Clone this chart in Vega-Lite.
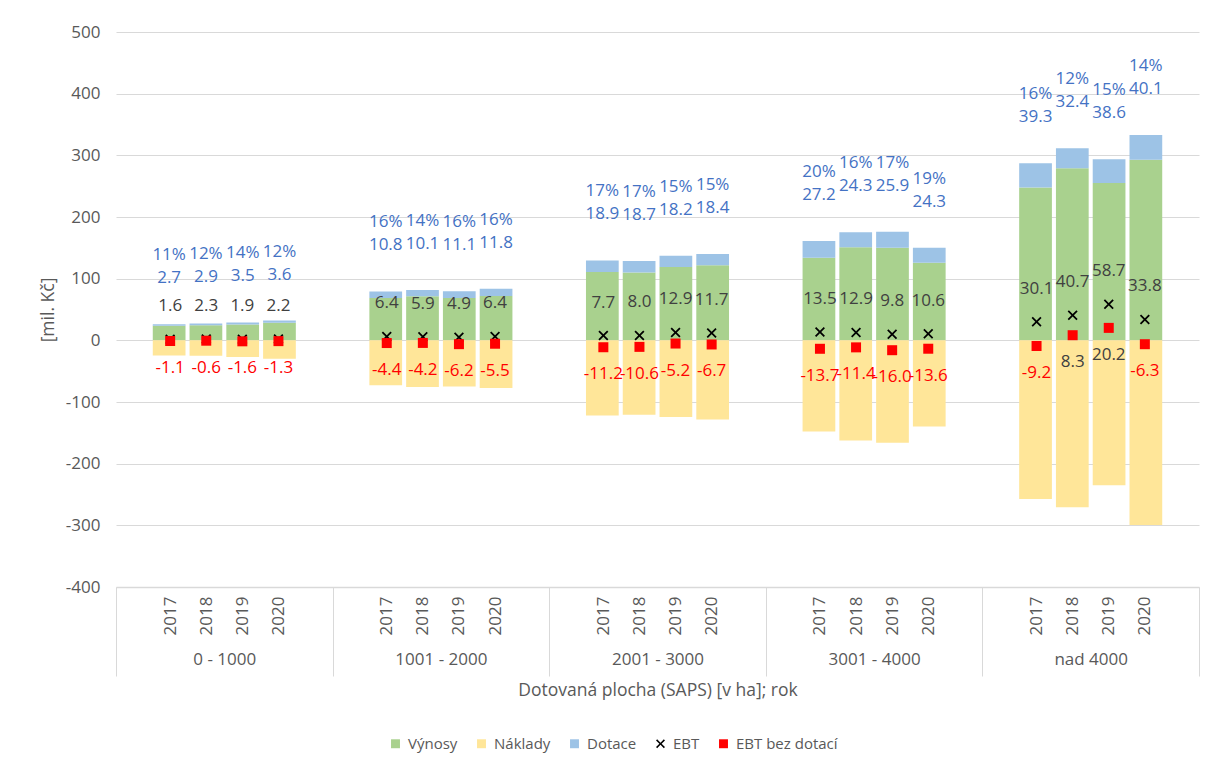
{
  "$schema": "https://vega.github.io/schema/vega-lite/v6.json",
  "width": 1083,
  "height": 555,
  "autosize": {"type": "none"},
  "padding": {"left": 116, "top": 32, "right": 13, "bottom": 182},
  "background": "white",
  "data": {
    "values": [
      {"group": "0 - 1000", "year": "2017", "vynosy": 23.5, "naklady": -24.6, "dotace": 2.7, "ebt": 1.6, "ebt_bd": -1.1, "pct": 0.11},
      {"group": "0 - 1000", "year": "2018", "vynosy": 24.5, "naklady": -25.1, "dotace": 2.9, "ebt": 2.3, "ebt_bd": -0.6, "pct": 0.12},
      {"group": "0 - 1000", "year": "2019", "vynosy": 25.5, "naklady": -27.1, "dotace": 3.5, "ebt": 1.9, "ebt_bd": -1.6, "pct": 0.14},
      {"group": "0 - 1000", "year": "2020", "vynosy": 28.5, "naklady": -29.9, "dotace": 3.6, "ebt": 2.2, "ebt_bd": -1.3, "pct": 0.12},
      {"group": "1001 - 2000", "year": "2017", "vynosy": 68.5, "naklady": -72.9, "dotace": 10.8, "ebt": 6.4, "ebt_bd": -4.4, "pct": 0.16},
      {"group": "1001 - 2000", "year": "2018", "vynosy": 71.5, "naklady": -75.7, "dotace": 10.1, "ebt": 5.9, "ebt_bd": -4.2, "pct": 0.14},
      {"group": "1001 - 2000", "year": "2019", "vynosy": 68.5, "naklady": -74.7, "dotace": 11.1, "ebt": 4.9, "ebt_bd": -6.2, "pct": 0.16},
      {"group": "1001 - 2000", "year": "2020", "vynosy": 72.0, "naklady": -77.4, "dotace": 11.8, "ebt": 6.4, "ebt_bd": -5.5, "pct": 0.16},
      {"group": "2001 - 3000", "year": "2017", "vynosy": 110.7, "naklady": -121.9, "dotace": 18.9, "ebt": 7.7, "ebt_bd": -11.2, "pct": 0.17},
      {"group": "2001 - 3000", "year": "2018", "vynosy": 110.0, "naklady": -120.7, "dotace": 18.7, "ebt": 8.0, "ebt_bd": -10.6, "pct": 0.17},
      {"group": "2001 - 3000", "year": "2019", "vynosy": 119.0, "naklady": -124.3, "dotace": 18.2, "ebt": 12.9, "ebt_bd": -5.2, "pct": 0.15},
      {"group": "2001 - 3000", "year": "2020", "vynosy": 121.6, "naklady": -128.3, "dotace": 18.4, "ebt": 11.7, "ebt_bd": -6.7, "pct": 0.15},
      {"group": "3001 - 4000", "year": "2017", "vynosy": 134.0, "naklady": -147.7, "dotace": 27.2, "ebt": 13.5, "ebt_bd": -13.7, "pct": 0.20},
      {"group": "3001 - 4000", "year": "2018", "vynosy": 151.0, "naklady": -162.4, "dotace": 24.3, "ebt": 12.9, "ebt_bd": -11.4, "pct": 0.16},
      {"group": "3001 - 4000", "year": "2019", "vynosy": 150.0, "naklady": -166.1, "dotace": 25.9, "ebt": 9.8, "ebt_bd": -16.0, "pct": 0.17},
      {"group": "3001 - 4000", "year": "2020", "vynosy": 126.0, "naklady": -139.7, "dotace": 24.3, "ebt": 10.6, "ebt_bd": -13.6, "pct": 0.19},
      {"group": "nad 4000", "year": "2017", "vynosy": 248.0, "naklady": -257.2, "dotace": 39.3, "ebt": 30.1, "ebt_bd": -9.2, "pct": 0.16},
      {"group": "nad 4000", "year": "2018", "vynosy": 279.0, "naklady": -270.7, "dotace": 32.4, "ebt": 40.7, "ebt_bd": 8.3, "pct": 0.12},
      {"group": "nad 4000", "year": "2019", "vynosy": 255.0, "naklady": -234.9, "dotace": 38.6, "ebt": 58.7, "ebt_bd": 20.2, "pct": 0.15},
      {"group": "nad 4000", "year": "2020", "vynosy": 293.0, "naklady": -299.3, "dotace": 40.1, "ebt": 33.8, "ebt_bd": -6.3, "pct": 0.14}
    ]
  },
  "transform": [{"calculate": "datum.group + '|' + datum.year", "as": "slot"}],
  "layer": [
    {
      "transform": [
        {"fold": ["vynosy", "naklady", "dotace"], "as": ["series", "value"]},
        {"stack": "value", "groupby": ["group", "year"], "sort": [{"field": "series", "order": "descending"}], "as": ["y0", "y1"]}
      ],
      "encoding": {
        "x": {
          "field": "group", "type": "nominal", "sort": null,
          "scale": {"domain": ["0 - 1000", "1001 - 2000", "2001 - 3000", "3001 - 4000", "nad 4000"], "paddingInner": 0, "paddingOuter": 0},
          "axis": {
            "orient": "bottom", "title": "Dotovaná plocha (SAPS) [v ha]; rok", "titlePadding": 5,
            "labelAngle": 0, "labelPadding": -25, "tickBand": "extent", "tickSize": 89,
            "tickColor": "#d9d9d9", "tickWidth": 1, "domain": false, "grid": false
          }
        },
        "xOffset": {
          "field": "year", "type": "nominal",
          "scale": {"domain": ["2017", "2018", "2019", "2020"], "paddingInner": 0.11, "paddingOuter": 1.055}
        }
      },
      "layer": [
        {
          "mark": {"type": "bar"},
          "encoding": {
            "y": {"field": "y1", "type": "quantitative", "title": "[mil. Kč]", "scale": {"domain": [-400, 500], "nice": false}},
            "y2": {"field": "y0"},
            "color": {
              "field": "series", "type": "nominal",
              "scale": {"domain": ["vynosy", "naklady", "dotace", "ebt", "ebt_bd"], "range": ["#A9D18E", "#FFE699", "#9DC3E6", "#000000", "#FF0000"]},
              "legend": {
                "orient": "none", "legendX": 272, "legendY": 704, "direction": "horizontal", "title": null,
                "labelExpr": "{'vynosy':'Výnosy','naklady':'Náklady','dotace':'Dotace','ebt':'EBT','ebt_bd':'EBT bez dotací'}[datum.label]"
              }
            }
          }
        },
        {
          "transform": [{"filter": "datum.series == 'dotace'"}],
          "mark": {"type": "text", "dy": -69, "fontSize": 17, "color": "#4472C4", "baseline": "middle"},
          "encoding": {
            "y": {"field": "y1", "type": "quantitative", "title": "[mil. Kč]", "scale": {"domain": [-400, 500], "nice": false}},
            "text": {"field": "pct", "type": "quantitative", "format": ".0%"}
          }
        },
        {
          "transform": [{"filter": "datum.series == 'dotace'"}],
          "mark": {"type": "text", "dy": -46, "fontSize": 17, "color": "#4472C4", "baseline": "middle"},
          "encoding": {
            "y": {"field": "y1", "type": "quantitative", "title": "[mil. Kč]", "scale": {"domain": [-400, 500], "nice": false}},
            "text": {"field": "value", "type": "quantitative", "format": ".1f"}
          }
        }
      ]
    },
    {
      "encoding": {
        "x": {
          "field": "slot", "type": "nominal", "sort": null,
          "scale": {
            "domain": [
              "0 - 1000|a", "0 - 1000|2017", "0 - 1000|2018", "0 - 1000|2019", "0 - 1000|2020", "0 - 1000|z",
              "1001 - 2000|a", "1001 - 2000|2017", "1001 - 2000|2018", "1001 - 2000|2019", "1001 - 2000|2020", "1001 - 2000|z",
              "2001 - 3000|a", "2001 - 3000|2017", "2001 - 3000|2018", "2001 - 3000|2019", "2001 - 3000|2020", "2001 - 3000|z",
              "3001 - 4000|a", "3001 - 4000|2017", "3001 - 4000|2018", "3001 - 4000|2019", "3001 - 4000|2020", "3001 - 4000|z",
              "nad 4000|a", "nad 4000|2017", "nad 4000|2018", "nad 4000|2019", "nad 4000|2020", "nad 4000|z"
            ],
            "paddingInner": 0.11, "paddingOuter": 0.055
          },
          "axis": {
            "orient": "bottom", "title": null, "labelAngle": -90, "labelPadding": 9,
            "labelExpr": "slice(datum.value, -1) == 'a' || slice(datum.value, -1) == 'z' ? '' : slice(datum.value, -4)",
            "ticks": false, "domain": true, "domainColor": "#d9d9d9", "domainWidth": 1.5, "grid": false
          }
        }
      },
      "layer": [
        {
          "transform": [{"fold": ["ebt", "ebt_bd"], "as": ["series", "value"]}],
          "mark": {"type": "point", "filled": true, "opacity": 1, "size": 100, "strokeWidth": 0},
          "encoding": {
            "y": {"field": "value", "type": "quantitative", "title": "[mil. Kč]", "scale": {"domain": [-400, 500], "nice": false}},
            "color": {
              "field": "series", "type": "nominal",
              "scale": {"domain": ["vynosy", "naklady", "dotace", "ebt", "ebt_bd"], "range": ["#A9D18E", "#FFE699", "#9DC3E6", "#000000", "#FF0000"]},
              "legend": {
                "orient": "none", "legendX": 272, "legendY": 704, "direction": "horizontal", "title": null,
                "labelExpr": "{'vynosy':'Výnosy','naklady':'Náklady','dotace':'Dotace','ebt':'EBT','ebt_bd':'EBT bez dotací'}[datum.label]"
              }
            },
            "shape": {
              "field": "series", "type": "nominal",
              "scale": {"domain": ["vynosy", "naklady", "dotace", "ebt", "ebt_bd"], "range": ["square", "square", "square", "M-1,-0.75L-0.75,-1L0,-0.25L0.75,-1L1,-0.75L0.25,0L1,0.75L0.75,1L0,0.25L-0.75,1L-1,0.75L-0.25,0Z", "square"]},
              "legend": {
                "orient": "none", "legendX": 272, "legendY": 704, "direction": "horizontal", "title": null,
                "labelExpr": "{'vynosy':'Výnosy','naklady':'Náklady','dotace':'Dotace','ebt':'EBT','ebt_bd':'EBT bez dotací'}[datum.label]"
              }
            }
          }
        },
        {
          "mark": {"type": "text", "dy": -33, "fontSize": 17, "color": "#404040", "baseline": "middle"},
          "encoding": {
            "y": {"field": "ebt", "type": "quantitative", "title": "[mil. Kč]", "scale": {"domain": [-400, 500], "nice": false}},
            "text": {"field": "ebt", "type": "quantitative", "format": ".1f"}
          }
        },
        {
          "mark": {"type": "text", "dy": 27, "fontSize": 17, "baseline": "middle"},
          "encoding": {
            "y": {"field": "ebt_bd", "type": "quantitative", "title": "[mil. Kč]", "scale": {"domain": [-400, 500], "nice": false}},
            "text": {"field": "ebt_bd", "type": "quantitative", "format": ".1f"},
            "color": {"condition": {"test": "datum.ebt_bd < 0", "value": "#FF0000"}, "value": "#404040"}
          }
        }
      ]
    }
  ],
  "resolve": {"scale": {"x": "independent"}},
  "config": {
    "font": "Open Sans",
    "locale": {"number": {"decimal": ".", "thousands": ",", "grouping": [3], "currency": ["", ""], "minus": "-"}},
    "view": {"stroke": null},
    "axis": {
      "labelFont": "Open Sans", "titleFont": "Open Sans", "labelColor": "#595959", "titleColor": "#595959",
      "titleFontWeight": "normal", "labelFontSize": 17, "titleFontSize": 17.5
    },
    "axisY": {
      "grid": true, "gridColor": "#d9d9d9", "domain": false, "ticks": false,
      "labelPadding": 16, "titlePadding": 8, "tickCount": 9
    },
    "legend": {
      "labelFont": "Open Sans", "labelFontSize": 15, "labelColor": "#595959",
      "symbolSize": 80, "symbolStrokeWidth": 0, "columnPadding": 16, "labelOffset": 5
    }
  }
}
